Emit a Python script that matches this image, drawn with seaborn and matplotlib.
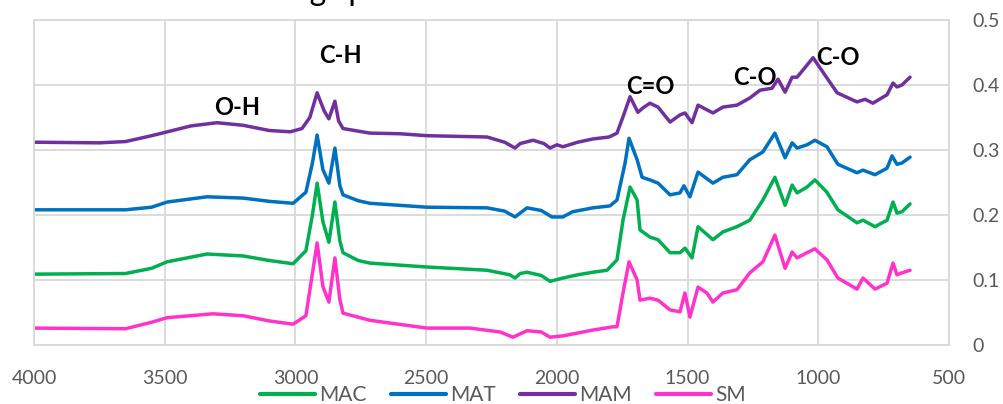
import numpy as np
import pandas as pd
import matplotlib
matplotlib.use("Agg")
import matplotlib.pyplot as plt
import seaborn as sns
from matplotlib.lines import Line2D

# ---------------- data (wavenumber cm-1, absorbance) ----------------
mam_wn = [4000, 3750, 3650, 3550, 3490, 3400, 3300, 3200, 3100, 3020, 2975, 2945, 2917, 2890, 2872,
          2849, 2835, 2818, 2715, 2600, 2497, 2267, 2200, 2160, 2140, 2091, 2050, 2026, 2000, 1977,
          1920, 1862, 1800, 1770, 1747, 1720, 1690, 1670, 1644, 1613, 1567, 1529, 1510, 1483, 1460,
          1403, 1365, 1311, 1262, 1223, 1177, 1154, 1127, 1100, 1081, 1020, 928, 852, 821, 791, 737,
          714, 699, 680, 649]
mam_y = [0.312, 0.311, 0.313, 0.322, 0.328, 0.337, 0.342, 0.338, 0.330, 0.328, 0.333, 0.350, 0.388, 0.360, 0.348,
         0.375, 0.345, 0.333, 0.326, 0.325, 0.322, 0.320, 0.312, 0.303, 0.310, 0.315, 0.310, 0.303, 0.308, 0.305,
         0.312, 0.317, 0.320, 0.326, 0.351, 0.382, 0.358, 0.365, 0.372, 0.366, 0.343, 0.354, 0.357, 0.342, 0.369,
         0.357, 0.366, 0.369, 0.380, 0.392, 0.395, 0.409, 0.389, 0.412, 0.412, 0.442, 0.388, 0.374, 0.378, 0.372, 0.385,
         0.403, 0.397, 0.400, 0.412]

mat_wn = [4000, 3650, 3550, 3490, 3338, 3200, 3100, 3009, 2960, 2935, 2917, 2895, 2872, 2849, 2830,
          2818, 2760, 2715, 2497, 2267, 2200, 2160, 2114, 2060, 2019, 1977, 1940, 1862, 1797, 1770,
          1739, 1724, 1693, 1674, 1644, 1613, 1567, 1529, 1514, 1491, 1460, 1403, 1365, 1311, 1262,
          1212, 1166, 1127, 1100, 1081, 1043, 1013, 967, 925, 852, 829, 783, 737, 718, 699, 680, 649]
mat_y = [0.208, 0.208, 0.212, 0.220, 0.228, 0.226, 0.221, 0.218, 0.235, 0.280, 0.323, 0.270, 0.249, 0.303, 0.245,
         0.231, 0.222, 0.218, 0.212, 0.211, 0.206, 0.197, 0.211, 0.207, 0.197, 0.197, 0.205, 0.211, 0.214, 0.223,
         0.280, 0.318, 0.285, 0.258, 0.254, 0.249, 0.231, 0.234, 0.245, 0.228, 0.266, 0.249, 0.258, 0.262, 0.285,
         0.297, 0.326, 0.288, 0.311, 0.303, 0.308, 0.315, 0.305, 0.278, 0.265, 0.269, 0.262, 0.272, 0.291, 0.278, 0.280, 0.289]

mac_wn = [4000, 3650, 3550, 3491, 3338, 3200, 3100, 3009, 2960, 2935, 2917, 2895, 2872, 2849, 2830,
          2818, 2760, 2715, 2497, 2267, 2217, 2180, 2160, 2140, 2114, 2060, 2026, 1977, 1920, 1862,
          1808, 1770, 1747, 1720, 1693, 1682, 1644, 1613, 1567, 1529, 1510, 1483, 1460, 1403, 1365,
          1311, 1262, 1212, 1166, 1127, 1100, 1081, 1043, 1013, 967, 925, 852, 829, 783, 737, 714,
          699, 680, 649]
mac_y = [0.109, 0.110, 0.118, 0.128, 0.140, 0.137, 0.130, 0.125, 0.145, 0.200, 0.249, 0.190, 0.158, 0.220, 0.160,
         0.142, 0.130, 0.126, 0.120, 0.115, 0.111, 0.108, 0.103, 0.110, 0.112, 0.107, 0.098, 0.103, 0.108, 0.112,
         0.115, 0.131, 0.192, 0.243, 0.223, 0.177, 0.166, 0.162, 0.142, 0.142, 0.149, 0.134, 0.182, 0.162, 0.174,
         0.182, 0.192, 0.223, 0.258, 0.215, 0.246, 0.234, 0.243, 0.254, 0.235, 0.208, 0.188, 0.192, 0.182, 0.192, 0.220,
         0.203, 0.205, 0.217]

sm_wn = [4000, 3650, 3550, 3491, 3315, 3200, 3100, 3009, 2960, 2935, 2917, 2895, 2872, 2849, 2830,
         2818, 2715, 2497, 2332, 2217, 2168, 2114, 2060, 2026, 1977, 1862, 1785, 1770, 1747, 1724,
         1693, 1682, 1644, 1613, 1567, 1529, 1510, 1491, 1460, 1426, 1403, 1365, 1311, 1262, 1212,
         1166, 1127, 1100, 1081, 1043, 1013, 967, 925, 852, 829, 783, 737, 714, 699, 680, 649]
sm_y = [0.026, 0.025, 0.035, 0.042, 0.048, 0.045, 0.037, 0.032, 0.045, 0.110, 0.157, 0.090, 0.066, 0.134, 0.070,
        0.049, 0.038, 0.026, 0.026, 0.020, 0.012, 0.022, 0.020, 0.012, 0.014, 0.023, 0.028, 0.028, 0.080, 0.128,
        0.100, 0.069, 0.072, 0.069, 0.054, 0.051, 0.080, 0.043, 0.089, 0.080, 0.066, 0.080, 0.085, 0.111, 0.128,
        0.169, 0.118, 0.143, 0.134, 0.142, 0.148, 0.131, 0.103, 0.086, 0.103, 0.086, 0.095, 0.126, 0.108, 0.111, 0.115]

series_names = ["MAC", "MAT", "MAM", "SM"]
series_colors = ["#00B050", "#0070C0", "#7030A0", "#FF33CC"]

x_ticks = [4000, 3500, 3000, 2500, 2000, 1500, 1000, 500]
y_ticks = [0, 0.1, 0.2, 0.3, 0.4, 0.5]
y_tick_labels = ["0", "0.1", "0.2", "0.3", "0.4", "0.5"]

band_labels = ["O-H", "C-H", "C=O", "C-O", "C-O"]
band_wn = [3224, 2826, 1644, 1242, 925]
band_y = [0.366, 0.446, 0.397, 0.412, 0.443]

title_text = "FTIR stacking spectra"

# ---------------- build long dataframe ----------------
frames = []
for name, wn, yv in [("MAC", mac_wn, mac_y), ("MAT", mat_wn, mat_y),
                     ("MAM", mam_wn, mam_y), ("SM", sm_wn, sm_y)]:
    frames.append(pd.DataFrame({"wn": wn, "abs": yv, "sample": name}))
df = pd.concat(frames, ignore_index=True)

sns.set_theme(style="white")
plt.rcParams["font.family"] = ["Lato", "DejaVu Sans"]

fig = plt.figure(figsize=(10.04, 4.04), dpi=100)
ax = fig.add_axes([34 / 1004, 1 - 345 / 404, (949 - 34) / 1004, (345 - 20) / 404])

palette = dict(zip(series_names, series_colors))
sns.lineplot(data=df, x="wn", y="abs", hue="sample", hue_order=series_names,
             palette=palette, sort=False, estimator=None, linewidth=2.5,
             ax=ax, legend=False)

ax.set_xlim(4000, 500)
ax.set_ylim(0, 0.5)
ax.set_xticks(x_ticks)
ax.set_xticklabels([str(t) for t in x_ticks])
ax.set_yticks(y_ticks)
ax.set_yticklabels(y_tick_labels)
ax.yaxis.tick_right()
ax.tick_params(axis="both", length=0, labelsize=14, colors="#595959")
ax.tick_params(axis="x", pad=18)
ax.tick_params(axis="y", pad=17)
for lab in ax.get_yticklabels():
    lab.set_horizontalalignment("left")
ax.set_xlabel("")
ax.set_ylabel("")
ax.grid(True, color="#D9D9D9", linewidth=1.3)
ax.set_axisbelow(True)
for sp in ax.spines.values():
    sp.set_color("#D9D9D9")
    sp.set_linewidth(1.3)

for txt, xw, yv in zip(band_labels, band_wn, band_y):
    ax.text(xw, yv, txt, ha="center", va="center", fontsize=17,
            fontweight="bold", color="black")

# legend
handles = [Line2D([0], [0], color=c, linewidth=3) for c in series_colors]
leg = fig.legend(handles, series_names, loc="center", bbox_to_anchor=(503 / 1004, 1 - 395 / 404),
                 ncol=4, frameon=False, fontsize=15, handlelength=2.65, handletextpad=0.2,
                 columnspacing=1.15, labelcolor="#595959", borderpad=0)

# title, mostly cut off at the top edge as in the reference
fig.text(137 / 1004, 1.0, title_text, ha="left", va="baseline",
         fontsize=23, color="black")

fig.savefig("out.png", dpi=100)
